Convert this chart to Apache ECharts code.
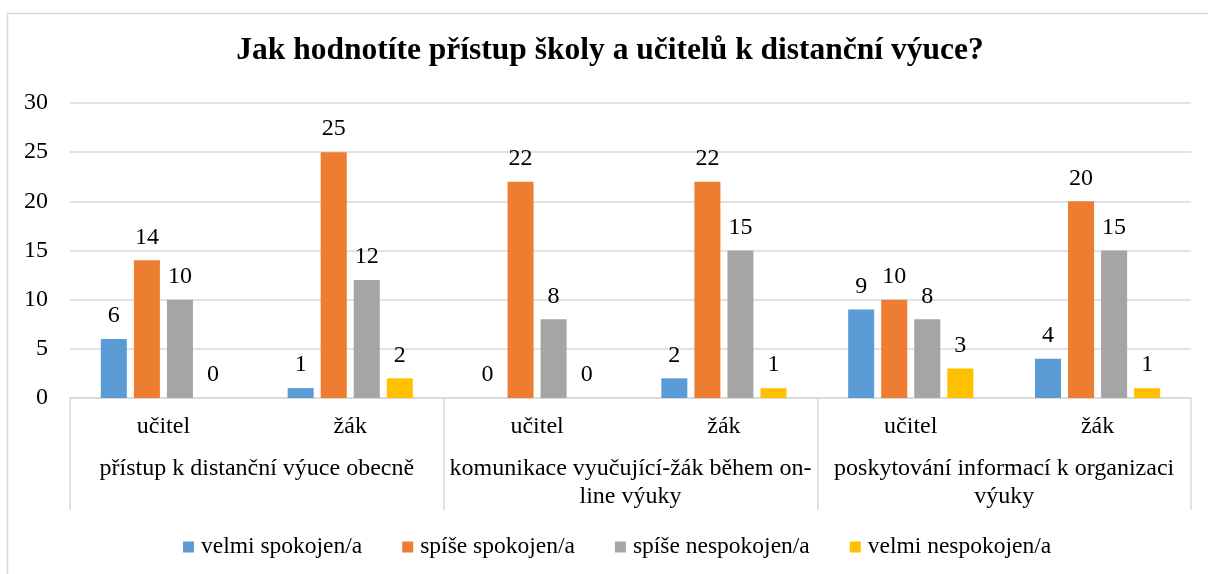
<!DOCTYPE html>
<html>
<head>
<meta charset="utf-8">
<script src="https://cdn.jsdelivr.net/npm/echarts@6/dist/echarts.min.js"></script>
<style>
html,body{margin:0;padding:0;background:#fff;}
#chart{width:1208px;height:574px;}
</style>
</head>
<body>
<div id="chart"></div>
<script>
const titleText = 'Jak hodnotíte přístup školy a učitelů k distanční výuce?';
const categories = ['učitel', 'žák', 'učitel', 'žák', 'učitel', 'žák'];
const groups = ['přístup k distanční výuce obecně', 'komunikace vyučující-žák během on-\nline výuky', 'poskytování informací k organizaci\nvýuky'];
const seriesNames = ['velmi spokojen/a', 'spíše spokojen/a', 'spíše nespokojen/a', 'velmi nespokojen/a'];
const velmiSpokojen = [6, 1, 0, 2, 9, 4];
const spiseSpokojen = [14, 25, 22, 22, 10, 20];
const spiseNespokojen = [10, 12, 8, 15, 8, 15];
const velmiNespokojen = [0, 2, 0, 1, 3, 1];
const yTicks = { min: 0, max: 30, interval: 5 };

const colors = ['#5B9BD5', '#ED7D31', '#A5A5A5', '#FFC000'];
const values = [velmiSpokojen, spiseSpokojen, spiseNespokojen, velmiNespokojen];
const font = '"Liberation Serif", "Times New Roman", serif';

const chart = echarts.init(document.getElementById('chart'));
chart.setOption({
  animation: false,
  color: colors,
  textStyle: { fontFamily: font, color: '#000' },
  graphic: [{
    type: 'rect', silent: true, z: -10,
    shape: { x: 7.5, y: 13.5, width: 1400, height: 800 },
    style: { fill: '#fff', stroke: '#d9d9d9', lineWidth: 1.5 }
  }],
  title: {
    text: titleText,
    left: 610, top: 35, textAlign: 'center', padding: 0,
    textStyle: { fontFamily: font, fontSize: 31.5, lineHeight: 32, fontWeight: 'bold', color: '#000' }
  },
  legend: {
    top: 535, left: 183, padding: 0,
    itemWidth: 11, itemHeight: 11, itemGap: 40,
    icon: 'rect',
    textStyle: { fontFamily: font, fontSize: 23.5, lineHeight: 24, color: '#000', padding: [0, 0, 0, 2] },
    data: seriesNames
  },
  grid: { left: 70, right: 17, top: 103, bottom: 176 },
  xAxis: [{
    type: 'category',
    data: categories,
    axisLine: { show: true, lineStyle: { color: '#d9d9d9', width: 1.5 } },
    axisTick: { show: false },
    axisLabel: { fontFamily: font, fontSize: 24, lineHeight: 24, color: '#000', margin: 17, interval: 0 }
  }, {
    type: 'category',
    data: groups,
    position: 'bottom',
    axisLine: { show: false },
    axisTick: { show: true, length: 112, lineStyle: { color: '#d9d9d9', width: 1.5 } },
    axisLabel: { fontFamily: font, fontSize: 24, color: '#000', margin: 57, lineHeight: 27.5, interval: 0 }
  }],
  yAxis: {
    type: 'value',
    min: yTicks.min, max: yTicks.max, interval: yTicks.interval,
    axisLine: { show: false },
    axisTick: { show: false },
    splitLine: { lineStyle: { color: '#d9d9d9', width: 1.5 } },
    axisLabel: { fontFamily: font, fontSize: 24, color: '#000', margin: 22 }
  },
  series: seriesNames.map((name, i) => ({
    name: name,
    type: 'bar',
    xAxisIndex: 0,
    data: values[i],
    barGap: '27%',
    barCategoryGap: '33%',
    label: { show: true, position: 'top', distance: 11, fontFamily: font, fontSize: 24, lineHeight: 24, color: '#000' }
  }))
});
</script>
</body>
</html>
